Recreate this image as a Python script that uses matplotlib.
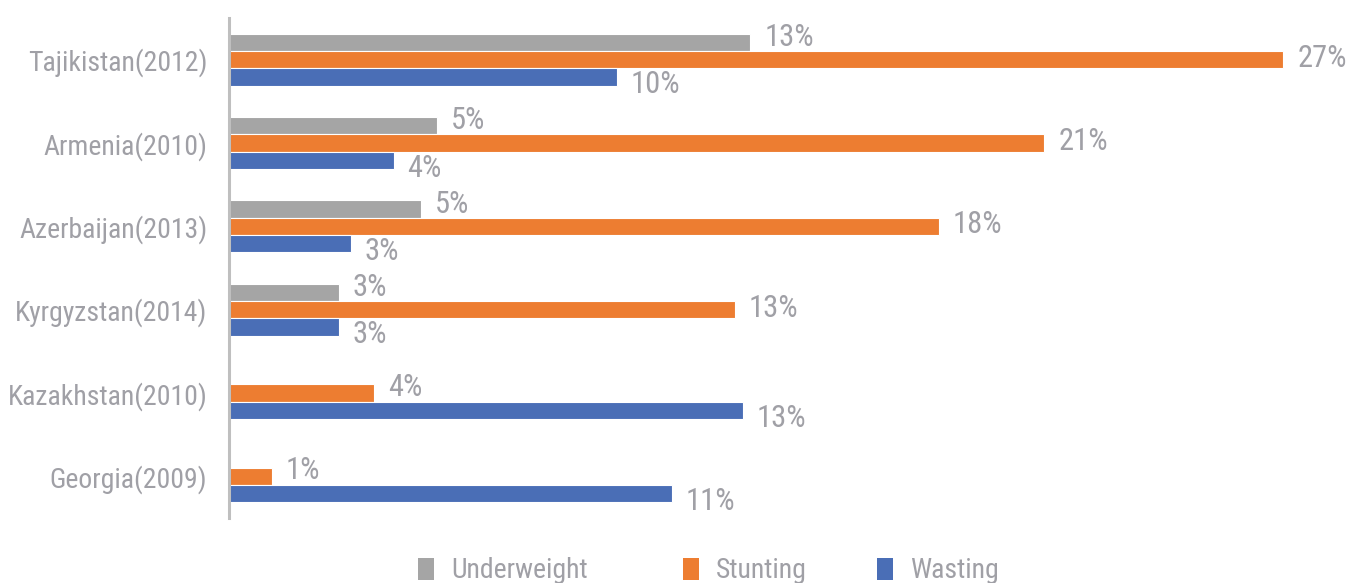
import os
import numpy as np
import matplotlib
matplotlib.use("Agg")
import matplotlib.pyplot as plt
from matplotlib import font_manager as fm
from matplotlib.patches import Patch

countries = ["Tajikistan(2012)", "Armenia(2010)", "Azerbaijan(2013)",
             "Kyrgyzstan(2014)", "Kazakhstan(2010)", "Georgia(2009)"]
underweight = [13.3, 5.3, 4.9, 2.8, np.nan, np.nan]
stunting = [26.9, 20.8, 18.1, 12.9, 3.7, 1.1]
wasting = [9.9, 4.2, 3.1, 2.8, 13.1, 11.3]

series_names = ["Underweight", "Stunting", "Wasting"]
colors = ["#A5A5A5", "#ED7D31", "#4A6EB6"]
text_color = "#A0A0A6"


def narrow_font_file():
    """Find a regular-weight condensed/narrow sans face among installed fonts."""
    files = sorted({f.fname for f in fm.fontManager.ttflist})
    prefs = ["liberationsansnarrow-regular", "robotocondensed-regular",
             "dejavusanscondensed.ttf", "notosans-condensed.ttf",
             "notosans-condensedregular", "opensans_condensed-regular",
             "opensans-condensedregular", "opensanscondensed-regular"]
    for p in prefs:
        for f in files:
            if p in os.path.basename(f).lower():
                return f
    skip = ("bold", "light", "italic", "oblique", "semi", "extra", "black",
            "medium", "thin", "mono", "serif")
    for f in files:
        b = os.path.basename(f).lower()
        if ("condensed" in b or "narrow" in b) and not any(s in b for s in skip):
            return f
    return None


fpath = narrow_font_file()
if fpath:
    font = fm.FontProperties(fname=fpath, size=20)
    value_font = fm.FontProperties(fname=fpath, size=22)
else:
    font = fm.FontProperties(family="Roboto", size=18)
    value_font = fm.FontProperties(family="Roboto", size=19)

fig = plt.figure(figsize=(13.52, 5.83), dpi=100)
ax = fig.add_axes([229 / 1352, 65 / 583, 1123 / 1352, 500 / 583])

y = np.arange(len(countries))
h = 0.209
series = [underweight, stunting, wasting]
offsets = [-h, 0.0, h]

for vals, off, col, name in zip(series, offsets, colors, series_names):
    ax.barh(y + off, vals, height=h, color=col, edgecolor="white",
            linewidth=0.8, label=name)
    for i, v in enumerate(vals):
        if np.isnan(v):
            continue
        if name == "Underweight":
            dy = 3.5
        elif name == "Stunting":
            dy = 1.0 if not np.isnan(underweight[i]) else 4.0
        else:
            dy = -5.5
        ax.annotate(f"{v:.0f}%", xy=(v, y[i] + off), xytext=(10, dy),
                    textcoords="offset points", ha="left", va="center",
                    fontproperties=value_font, color=text_color)

ax.set_xlim(0, 1123 / 39.2)
ax.set_ylim(len(countries) - 0.5, -0.5)
ax.set_yticks(y)
ax.set_yticklabels(countries, fontproperties=font, color=text_color)
ax.tick_params(axis="y", length=0, pad=15.5)
ax.set_xticks([])
for side in ["top", "right", "bottom"]:
    ax.spines[side].set_visible(False)
ax.spines["left"].set_color("#BFBFBF")
ax.spines["left"].set_linewidth(2.2)

legend_x = [418, 683, 877]
for name, col, lx in zip(series_names, colors, legend_x):
    fig.legend(handles=[Patch(facecolor=col, edgecolor="none")],
               labels=[name], loc="center left",
               bbox_to_anchor=(lx / 1352, 1 - 571 / 583),
               frameon=False, prop=font, handlelength=0.58,
               handleheight=0.83, handletextpad=0.6, borderpad=0,
               borderaxespad=0, labelcolor=text_color)

fig.savefig("out.png", dpi=100)
